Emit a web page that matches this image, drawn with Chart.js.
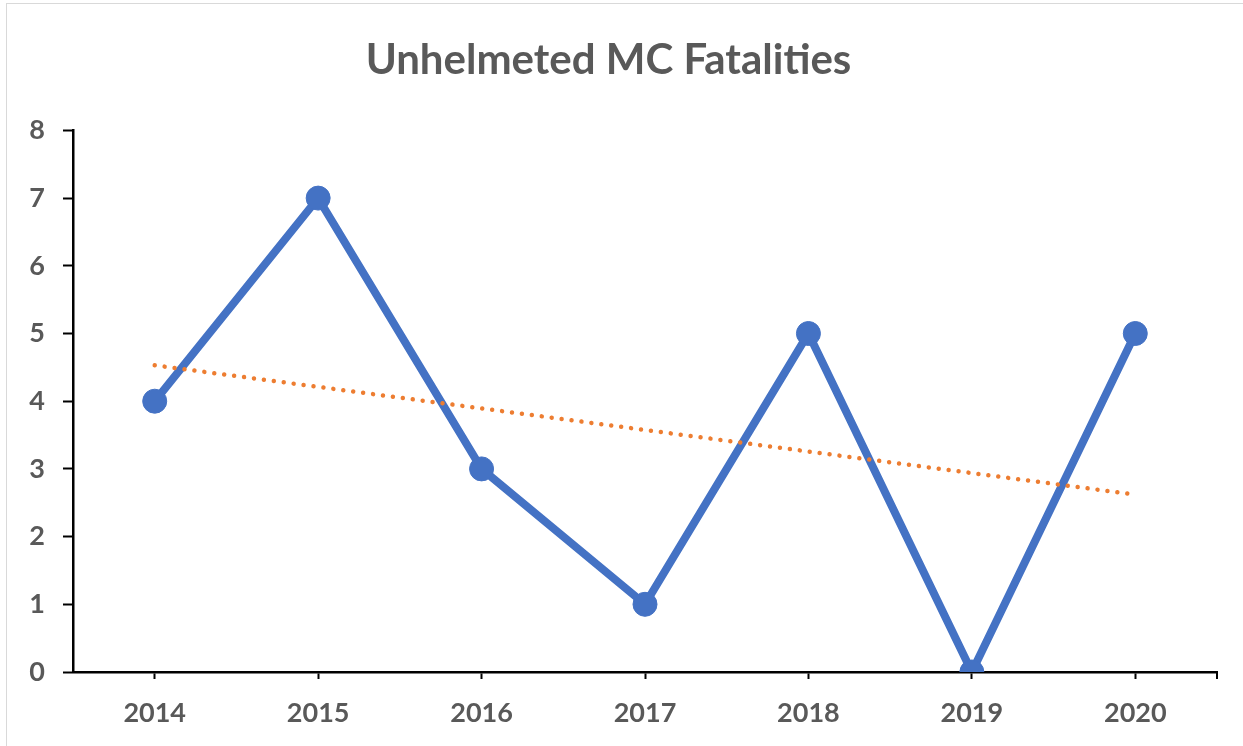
<!DOCTYPE html>
<html>
<head>
<meta charset="utf-8">
<script src="https://cdn.jsdelivr.net/npm/chart.js@4/dist/chart.umd.min.js"></script>
<style>
    body { margin: 0; background: #fff; }
    #marco { position: absolute; left: 6px; top: 3px; width: 1245px; height: 750px; border: 1px solid #d9d9d9; }
    #caja { position: absolute; left: 0; top: 0; width: 1243px; height: 746px; }
</style>
</head>
<body>
<div id="marco"></div>
<div id="caja"><canvas id="grafico"></canvas></div>
<script>
// Datos
const anios = ['2014', '2015', '2016', '2017', '2018', '2019', '2020'];
const muertes = [4, 7, 3, 1, 5, 0, 5];
// Línea de tendencia: solo los extremos
const tendencia = [4.53, null, null, null, null, null, 2.62];
const marcasY = [0, 1, 2, 3, 4, 5, 6, 7, 8];

const gris = '#595959';
const fuenteTicks = { family: 'Lato', size: 27, weight: 'bold' };

// Pequeña marca al final del eje X (como en Excel)
const marcaFinal = {
    id: 'marcaFinal',
    afterDraw(chart) {
        const { ctx, chartArea } = chart;
        ctx.save();
        ctx.strokeStyle = '#000';
        ctx.lineWidth = 2;
        ctx.beginPath();
        ctx.moveTo(chartArea.right, chartArea.bottom);
        ctx.lineTo(chartArea.right, chartArea.bottom + 7);
        ctx.stroke();
        ctx.restore();
    }
};

const ctx = document.getElementById('grafico').getContext('2d');

new Chart(ctx, {
    type: 'line',
    data: {
        labels: anios,
        datasets: [{
            label: 'Tendencia',
            data: tendencia,
            borderColor: '#ED7D31',
            borderWidth: 4.5,
            borderDash: [0.01, 10],
            borderCapStyle: 'round',
            spanGaps: true,
            pointRadius: 0,
            order: 0
        }, {
            label: 'Unhelmeted MC Fatalities',
            data: muertes,
            borderColor: '#4472C4',
            backgroundColor: '#4472C4',
            borderWidth: 8,
            pointRadius: 12,
            pointBorderWidth: 1,
            pointBackgroundColor: '#4472C4',
            tension: 0,
            order: 1
        }]
    },
    options: {
        responsive: true,
        maintainAspectRatio: false,
        animation: false,
        layout: { padding: { top: 0, right: 26, bottom: 0, left: 0 } },
        scales: {
            x: {
                offset: true,
                grid: { drawOnChartArea: false, tickLength: 7, tickWidth: 2, color: '#000' },
                border: { color: '#000', width: 2.5 },
                ticks: { color: gris, font: fuenteTicks, padding: 18 },
                afterFit: (escala) => { escala.height = 74; }
            },
            y: {
                min: 0,
                max: 8,
                afterBuildTicks: (escala) => { escala.ticks = marcasY.map(v => ({ value: v })); },
                grid: { drawOnChartArea: false, tickLength: 10, tickWidth: 2, color: '#000' },
                border: { color: '#000', width: 2.5 },
                ticks: { color: gris, font: fuenteTicks, padding: 18 },
                afterFit: (escala) => { escala.width = 73; }
            }
        },
        plugins: {
            legend: { display: false },
            tooltip: { enabled: false },
            title: {
                display: true,
                text: 'Unhelmeted MC Fatalities',
                color: gris,
                font: { family: 'Lato', size: 42, weight: 'bold' },
                padding: { top: 35, bottom: 45 }
            }
        }
    },
    plugins: [marcaFinal]
});
</script>
</body>
</html>
